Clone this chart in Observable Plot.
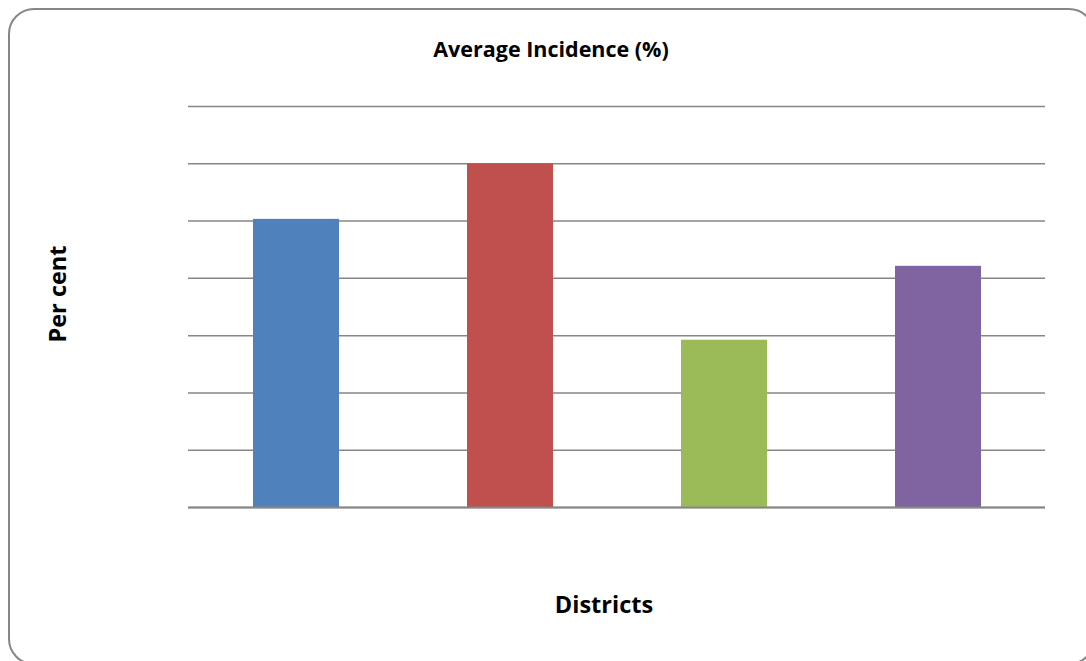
<!DOCTYPE html>
<html>
<head>
<meta charset="utf-8">
<script src="https://cdn.jsdelivr.net/npm/d3@7"></script>
<script src="https://cdn.jsdelivr.net/npm/@observablehq/plot@0.6"></script>
<style>
  html, body { margin: 0; padding: 0; background: #fff; overflow: hidden; width: 1086px; height: 661px; }
  #wrap { position: relative; width: 1086px; height: 661px; overflow: hidden; }
  #frame { position: absolute; left: 8px; top: 8px; width: 1087px; height: 657px; border: 2px solid #868686; border-radius: 26px; box-sizing: border-box; }
  .lbl { position: absolute; font-family: "Open Sans", "Liberation Sans", sans-serif; font-weight: bold; color: #000; white-space: nowrap; line-height: 1; }
  #title { left: 551px; top: 49px; transform: translate(-50%, -50%); font-size: 21.5px; }
  #xlab { left: 604px; top: 605px; transform: translate(-50%, -50%); font-size: 23.5px; }
  #ylab { left: 58px; top: 294px; transform: translate(-50%, -50%) rotate(-90deg); font-size: 23.5px; }
  #chart { position: absolute; left: 0; top: 0; }
</style>
</head>
<body>
<div id="wrap">
  <div id="frame"></div>
  <div id="chart"></div>
  <div class="lbl" id="title">Average Incidence (%)</div>
  <div class="lbl" id="xlab">Districts</div>
  <div class="lbl" id="ylab">Per cent</div>
</div>
<script>
const districts = ["District 1", "District 2", "District 3", "District 4"];
const incidence = [5.03, 6.0, 2.92, 4.21];
const colors = ["#4F81BD", "#C0504D", "#9BBB59", "#8064A2"];
const yTicks = [0, 1, 2, 3, 4, 5, 6, 7];

const data = districts.map((d, i) => ({district: d, value: incidence[i]}));

const chart = Plot.plot({
  width: 1086,
  height: 661,
  marginLeft: 188,
  marginRight: 41,
  marginTop: 106,
  marginBottom: 154,
  x: {domain: districts, paddingInner: 0.6, paddingOuter: 0.3, axis: null},
  y: {domain: [0, 7], axis: null},
  color: {domain: districts, range: colors},
  marks: [
    Plot.ruleY(yTicks, {stroke: "#868686", strokeWidth: 1.5}),
    Plot.barY(data, {x: "district", y: "value", fill: "district"}),
    Plot.ruleY([0], {stroke: "#868686", strokeWidth: 2})
  ]
});
document.getElementById("chart").appendChild(chart);
</script>
</body>
</html>
